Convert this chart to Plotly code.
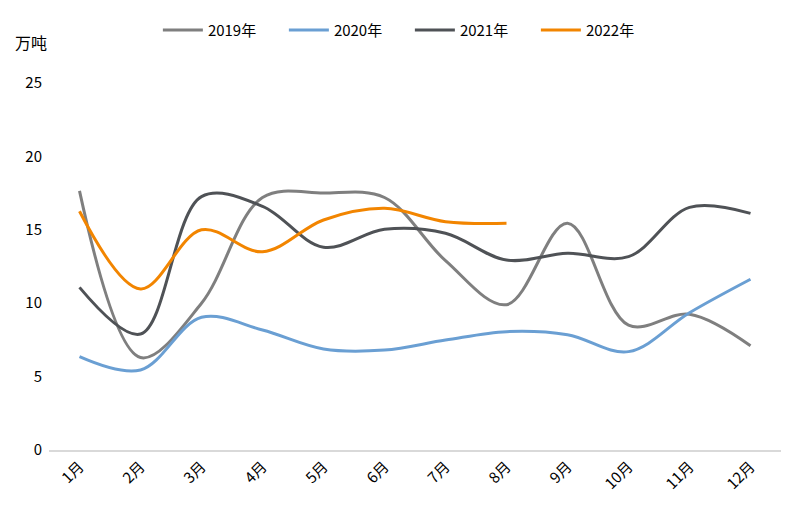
import plotly.graph_objects as go

months = ["1月", "2月", "3月", "4月", "5月", "6月", "7月", "8月", "9月", "10月", "11月", "12月"]
y2019 = [17.65, 6.3, 10.0, 17.2, 17.5, 17.2, 12.9, 9.9, 15.45, 8.5, 9.25, 7.1]
y2020 = [6.36, 5.45, 9.04, 8.17, 6.88, 6.81, 7.49, 8.06, 7.85, 6.7, 9.35, 11.63]
y2021 = [11.08, 7.9, 17.26, 16.6, 13.81, 15.03, 14.76, 12.94, 13.4, 13.17, 16.53, 16.12]
y2022 = [16.26, 10.97, 15.0, 13.5, 15.67, 16.46, 15.55, 15.44]

series = [
    ("2019年", y2019, "#7f7f7f"),
    ("2020年", y2020, "#6a9fd3"),
    ("2021年", y2021, "#4f5256"),
    ("2022年", y2022, "#f28500"),
]

fig = go.Figure()
for name, vals, color in series:
    fig.add_trace(go.Scatter(
        x=months[:len(vals)], y=vals, name=name, mode="lines",
        line=dict(color=color, width=3, shape="spline", smoothing=1.0),
    ))

font_family = "Noto Sans CJK SC, Noto Sans, sans-serif"
fig.update_layout(
    width=808, height=527,
    margin=dict(l=49, r=27, t=83, b=77),
    paper_bgcolor="white", plot_bgcolor="white",
    font=dict(family=font_family, size=15, color="#000000"),
    showlegend=True,
    legend=dict(orientation="h", x=0.493, xanchor="center", y=1.144, yanchor="middle",
                font=dict(size=15), entrywidth=71, itemwidth=40,
                bgcolor="rgba(0,0,0,0)"),
    xaxis=dict(type="category", range=[-0.5, 11.5], showgrid=False, zeroline=False,
               showline=True, linecolor="#d9d9d9", linewidth=2, ticks="",
               tickangle=-45, tickfont=dict(size=15)),
    yaxis=dict(range=[0, 25], tickvals=[0, 5, 10, 15, 20, 25], showgrid=False,
               zeroline=False, showline=False, ticks="", tickfont=dict(size=15),
               ticklabelstandoff=6),
    annotations=[dict(text="万吨", xref="paper", yref="paper", x=-0.024, y=1.112,
                      xanchor="center", yanchor="middle", showarrow=False,
                      font=dict(size=16))],
)

fig.write_html("out.html")
